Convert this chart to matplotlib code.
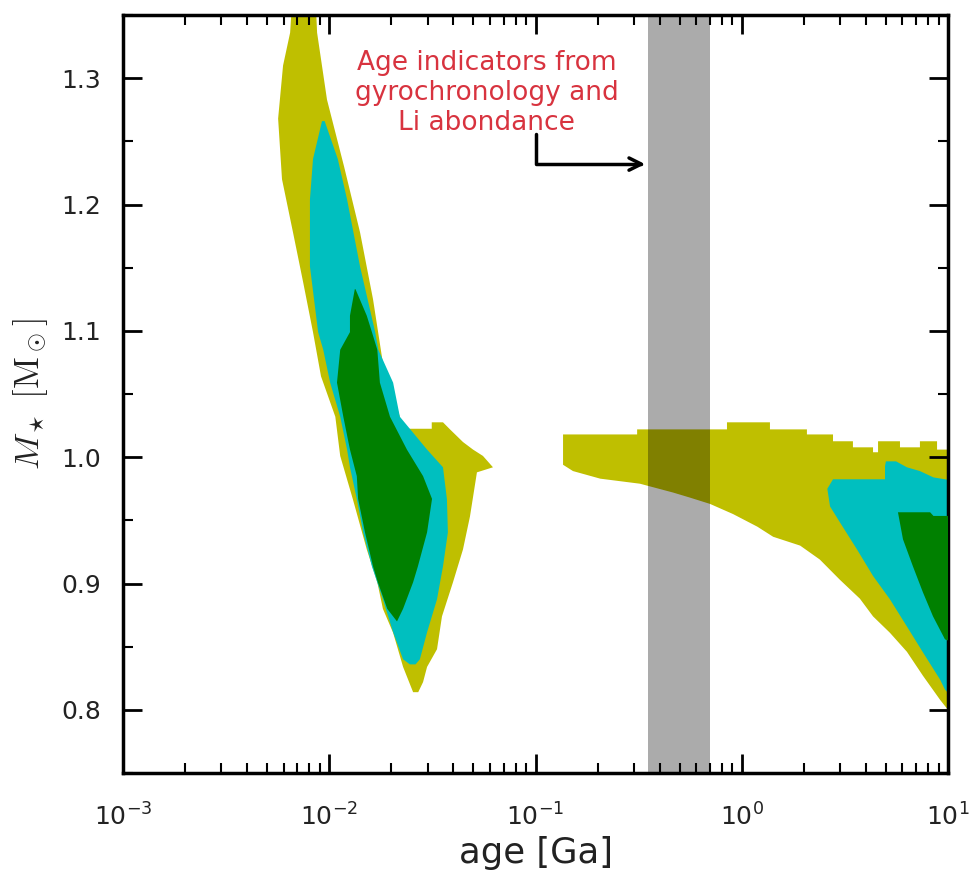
import matplotlib
matplotlib.use("Agg")
import matplotlib.pyplot as plt
from matplotlib.ticker import MultipleLocator, FormatStrFormatter, LogLocator, NullFormatter

# ---------------- data (age in Ga, mass in Msun) ----------------
# young branch, outer region (yellow): outline left edge top->bottom, then right edge bottom->top
young_yellow_age = [0.0066, 0.00646, 0.00597, 0.00565, 0.00590, 0.00667, 0.00746, 0.00834, 0.00912, 0.0107,
                    0.0113, 0.0130, 0.0152, 0.0171, 0.0182, 0.0204, 0.0228, 0.0255,
                    0.0270, 0.0285, 0.0298, 0.0333, 0.0352, 0.0398, 0.0445, 0.0481, 0.0520, 0.0622,
                    0.0556, 0.0498, 0.0445, 0.0385, 0.0356, 0.0314, 0.0314, 0.0225, 0.0220, 0.0183,
                    0.0163, 0.0141, 0.0118, 0.00975, 0.00873, 0.0086]
young_yellow_mass = [1.36, 1.336, 1.310, 1.268, 1.220, 1.178, 1.139, 1.099, 1.064, 1.032,
                     1.001, 0.967, 0.927, 0.901, 0.880, 0.861, 0.834, 0.814,
                     0.814, 0.822, 0.834, 0.848, 0.874, 0.901, 0.927, 0.953, 0.988, 0.992,
                     1.001, 1.006, 1.012, 1.022, 1.0276, 1.0276, 1.0225, 1.0225, 1.032, 1.072,
                     1.125, 1.178, 1.230, 1.283, 1.336, 1.36]

young_cyan_age = [0.00922, 0.00834, 0.00806, 0.00806, 0.00883, 0.00935, 0.0101, 0.0113, 0.0122, 0.0126,
                  0.0136, 0.0146, 0.0161, 0.0182, 0.0204, 0.0228, 0.0246,
                  0.0262, 0.0275, 0.0298, 0.0333, 0.0356, 0.0376, 0.0372, 0.0356, 0.0298, 0.0220,
                  0.0204, 0.0173, 0.0167, 0.0141, 0.0122, 0.0110, 0.0095]
young_cyan_mass = [1.266, 1.236, 1.204, 1.151, 1.099, 1.085, 1.059, 1.032, 1.006, 0.992,
                   0.967, 0.9405, 0.9136, 0.8875, 0.8614, 0.840, 0.836,
                   0.836, 0.840, 0.8614, 0.8875, 0.9136, 0.9405, 0.9667, 0.992, 1.006, 1.032,
                   1.059, 1.085, 1.099, 1.151, 1.204, 1.236, 1.266]

young_green_age = [0.0133, 0.0126, 0.0126, 0.0113, 0.0109, 0.0117, 0.0126, 0.0136, 0.0138, 0.0149,
                   0.0163, 0.0172, 0.0191, 0.0213,
                   0.0228, 0.0255, 0.0269, 0.0298, 0.0315, 0.0285, 0.0238, 0.0197, 0.0176, 0.0171,
                   0.0161, 0.0152, 0.0134]
young_green_mass = [1.133, 1.112, 1.099, 1.085, 1.059, 1.032, 1.006, 0.985, 0.967, 0.9405,
                    0.9136, 0.901, 0.880, 0.870,
                    0.880, 0.901, 0.9136, 0.9405, 0.967, 0.985, 1.006, 1.032, 1.059, 1.085,
                    1.099, 1.112, 1.133]

# old branch: outline top edge left->right, down the 10 Ga edge, bottom edge right->left
old_yellow_age = [0.136, 0.311, 0.311, 0.848, 0.848, 1.37, 1.37, 2.07, 2.07, 2.77, 2.77, 3.46, 3.46,
                  4.33, 4.33, 4.58, 4.58, 5.85, 5.85, 7.31, 7.31, 8.85, 8.85, 12.0,
                  12.0, 10.0, 9.15, 7.56, 6.32, 5.23, 4.33, 3.74, 2.99, 2.39, 1.92, 1.42, 1.19,
                  0.907, 0.702, 0.561, 0.465, 0.321, 0.206, 0.152, 0.136]
old_yellow_mass = [1.018, 1.018, 1.022, 1.022, 1.0276, 1.0276, 1.022, 1.022, 1.018, 1.018, 1.0126, 1.0126, 1.0078,
                   1.0078, 1.0039, 1.0039, 1.0126, 1.0126, 1.0078, 1.0078, 1.0126, 1.0126, 1.006, 1.006,
                   0.790, 0.800, 0.808, 0.827, 0.846, 0.861, 0.874, 0.888, 0.903, 0.919, 0.930, 0.937, 0.945,
                   0.955, 0.963, 0.968, 0.972, 0.979, 0.983, 0.989, 0.994]

old_cyan_age = [5.0, 5.6, 6.32, 7.31, 8.5, 12.0, 12.0, 9.67, 9.15, 7.56, 6.32, 5.23, 4.33, 3.62, 2.99,
                2.68, 2.6, 2.77, 4.95, 4.95]
old_cyan_mass = [0.9967, 0.9967, 0.992, 0.989, 0.984, 0.980, 0.800, 0.816, 0.824, 0.8455, 0.866, 0.8875,
                 0.906, 0.927, 0.9485, 0.961, 0.975, 0.9825, 0.9825, 0.993]

old_green_age = [5.72, 8.19, 8.5, 12.0, 12.0, 9.67, 8.46, 7.56, 6.76, 6.05]
old_green_mass = [0.9564, 0.9564, 0.9535, 0.9535, 0.850, 0.8558, 0.874, 0.893, 0.9136, 0.935]

# age indicators (gyrochronology + Li) band
band_age = [0.35, 0.70]

# annotation
note_text = "Age indicators from\ngyrochronology and\nLi abondance"
note_pos = (0.058, 1.288)
arrow_start = (0.1, 1.256)
arrow_end = (0.34, 1.232)

y_ticks = [0.8, 0.9, 1.0, 1.1, 1.2, 1.3]

# ---------------- figure ----------------
fig = plt.figure(figsize=(9.74, 8.72), dpi=100)
ax = fig.add_axes([0.1263, 0.1135, 0.847, 0.8693])

ax.fill(young_yellow_age, young_yellow_mass, color='y', lw=0, zorder=1)
ax.fill(young_cyan_age, young_cyan_mass, color='c', lw=0, zorder=2)
ax.fill(young_green_age, young_green_mass, color='g', lw=0, zorder=3)
ax.fill(old_yellow_age, old_yellow_mass, color='y', lw=0, zorder=1)
ax.fill(old_cyan_age, old_cyan_mass, color='c', lw=0, zorder=2)
ax.fill(old_green_age, old_green_mass, color='g', lw=0, zorder=3)

ax.axvspan(band_age[0], band_age[1], color='k', alpha=0.33, lw=0, zorder=4)

ax.text(note_pos[0], note_pos[1], note_text, color='#d8333f', fontsize=19, ha='center', va='center',
        linespacing=1.2, zorder=5)
ax.annotate('', xy=arrow_end, xytext=arrow_start,
            arrowprops=dict(arrowstyle='->', color='k', lw=2.5, mutation_scale=22,
                            connectionstyle='angle,angleA=90,angleB=0,rad=0',
                            shrinkA=0, shrinkB=0), zorder=5)

ax.set_xscale('log')
ax.set_xlim(1e-3, 1e1)
ax.set_ylim(0.75, 1.35)
ax.xaxis.set_major_locator(LogLocator(base=10, numticks=10))
ax.xaxis.set_minor_locator(LogLocator(base=10, subs=range(2, 10), numticks=100))
ax.xaxis.set_minor_formatter(NullFormatter())
ax.set_yticks(y_ticks)
ax.yaxis.set_major_formatter(FormatStrFormatter('%.1f'))
ax.yaxis.set_minor_locator(MultipleLocator(0.05))

ax.tick_params(which='both', direction='in', top=True, right=True, colors='k', labelcolor='#222222')
ax.tick_params(which='major', length=14, width=2, labelsize=18)
ax.tick_params(which='minor', length=7, width=1.5)
ax.tick_params(axis='y', which='major', pad=16)
ax.tick_params(axis='x', which='major', pad=22)
for s in ax.spines.values():
    s.set_linewidth(2.5)

ax.set_xlabel('age [Ga]', fontsize=25.5, color='#222222', labelpad=4)
yl = ax.set_ylabel(r'$M_\star\ [\mathrm{M}_\odot]$', fontsize=25, color='#222222', labelpad=8)
yl.set_math_fontfamily('cm')

fig.savefig('out.png', dpi=100)
